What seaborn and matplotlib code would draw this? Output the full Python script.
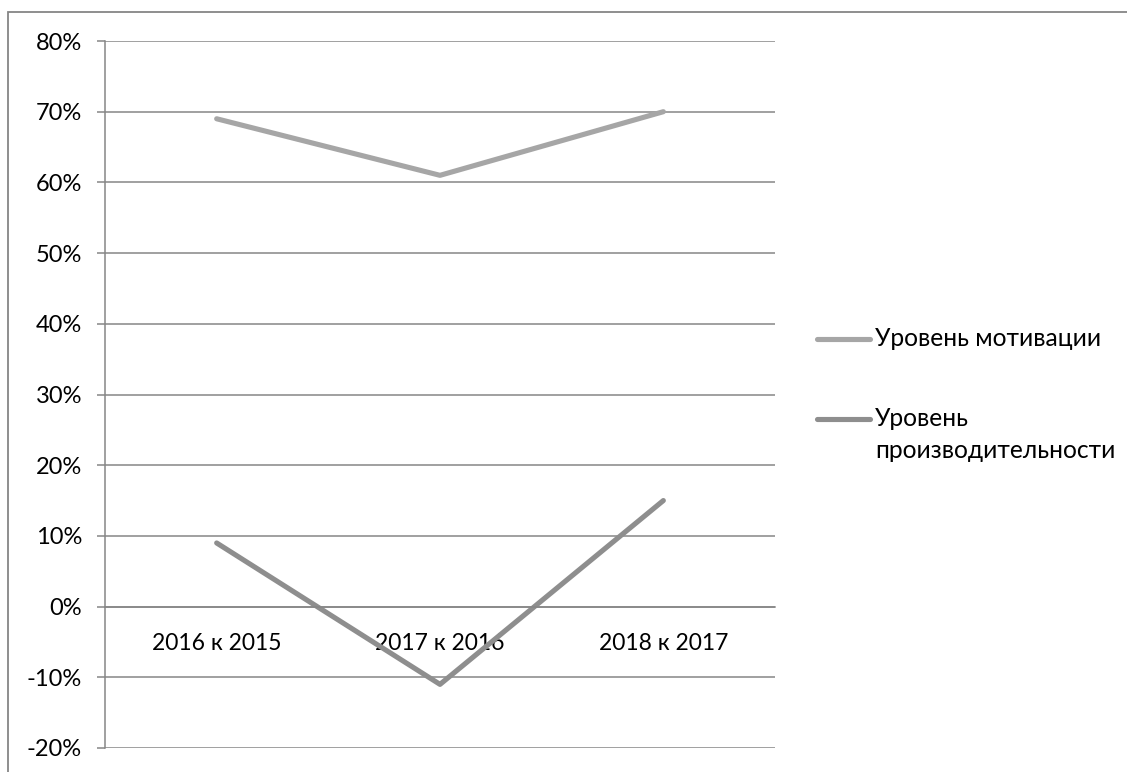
import matplotlib
matplotlib.use("Agg")
import matplotlib.pyplot as plt
from matplotlib.lines import Line2D
from matplotlib.patches import Rectangle
from matplotlib.ticker import FixedLocator, PercentFormatter
import numpy as np
import pandas as pd
import seaborn as sns

periods = ["2016 к 2015", "2017 к 2016", "2018 к 2017"]
motivation = [0.69, 0.61, 0.70]
productivity = [0.09, -0.11, 0.15]
series_names = ["Уровень мотивации", "Уровень\nпроизводительности"]
series_colors = ["#a6a6a6", "#8e8e8e"]
y_ticks = [-0.2, -0.1, 0.0, 0.1, 0.2, 0.3, 0.4, 0.5, 0.6, 0.7, 0.8]

df = pd.DataFrame({
    "period": periods * 2,
    "value": motivation + productivity,
    "series": [series_names[0]] * 3 + [series_names[1]] * 3,
})

sns.set_theme(style="white")
plt.rcParams["font.family"] = ["Lato", "DejaVu Sans"]
plt.rcParams["axes.unicode_minus"] = False

W, H = 1127, 772
fig = plt.figure(figsize=(W / 100, H / 100), dpi=100)
ax = fig.add_axes([105 / W, (H - 748) / H, (775 - 105) / W, (748 - 41) / H])

grid_c = "#868686"
lw = 3.7
sns.lineplot(data=df, x="period", y="value", hue="series", palette=series_colors,
             hue_order=series_names, sort=False, linewidth=lw, ax=ax, legend=False,
             solid_capstyle="round", solid_joinstyle="round")

ax.set_xlim(-0.5, 2.5)
ax.set_ylim(-0.2, 0.8)
ax.yaxis.set_major_locator(FixedLocator(y_ticks))
ax.yaxis.set_major_formatter(PercentFormatter(1.0, decimals=0))
ax.grid(axis="y", color=grid_c, linewidth=1.1)
ax.set_axisbelow(True)
ax.set_xlabel("")
ax.set_ylabel("")

ax.spines["top"].set_visible(False)
ax.spines["right"].set_visible(False)
ax.spines["left"].set_color(grid_c)
ax.spines["left"].set_linewidth(1.1)
ax.spines["bottom"].set_position(("data", 0))
ax.spines["bottom"].set_color(grid_c)
ax.spines["bottom"].set_linewidth(1.1)

ax.set_xticks(range(len(periods)))
ax.set_xticklabels(periods)
ax.set_xticks([0.5, 1.5, 2.5], minor=True)
ax.tick_params(axis="x", which="major", length=0, pad=19, labelsize=16.5, labelcolor="black")
ax.tick_params(axis="x", which="minor", length=6, width=1.1, color=grid_c, direction="out")
ax.tick_params(axis="y", which="major", length=6, width=1.1, color=grid_c, direction="out",
               pad=10.5, labelsize=17, labelcolor="black", left=True)

# legend entries to the right of the plot area
fx = lambda px: px / W
fy = lambda py: 1 - py / H
for name, color, ypx in zip(series_names, series_colors, [339, 419]):
    fig.add_artist(Line2D([fx(817), fx(870)], [fy(ypx), fy(ypx)], color=color,
                          linewidth=lw, solid_capstyle="round", transform=fig.transFigure))
    fig.text(fx(875), fy(ypx - 12), name, ha="left", va="top", fontsize=17.7,
             color="black", linespacing=1.5)

# chart frame
fig.add_artist(Rectangle((fx(8), -0.1), 1.2, fy(12) + 0.1, fill=False, edgecolor=grid_c,
                         linewidth=1.3, transform=fig.transFigure, clip_on=False))

fig.savefig("out.png", dpi=100, facecolor="white")
